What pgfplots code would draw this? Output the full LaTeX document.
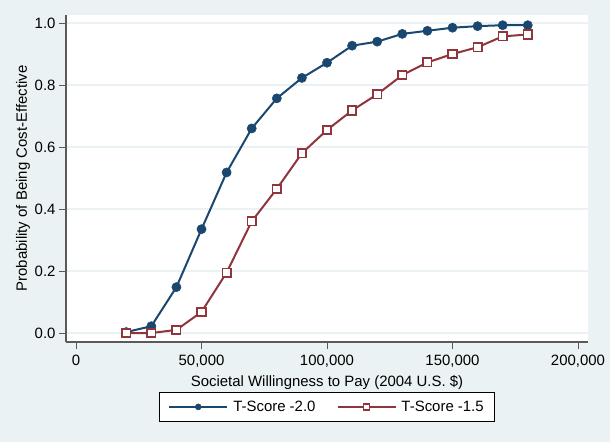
\documentclass[border=0pt]{standalone}
\usepackage{fontspec}
\setmainfont{Liberation Sans}
\usepackage{pgfplots}
\pgfplotsset{compat=1.18}
\definecolor{bgc}{RGB}{234,242,243}
\definecolor{sblue}{RGB}{26,71,111}
\definecolor{sred}{RGB}{144,53,59}
\definecolor{axgray}{RGB}{90,90,90}
\begin{document}
\begin{tikzpicture}[x=1bp,y=1bp]
\fill[bgc] (0,0) rectangle (610,442);
\useasboundingbox (0,0) rectangle (610,442);
\begin{axis}[
 at={(66bp,100bp)}, anchor=south west,
 scale only axis, width=522bp, height=327bp,
 xmin=-4000, xmax=204000, ymin=-0.029, ymax=1.026,
 axis background/.style={fill=white},
 axis x line*=bottom, axis y line*=left,
 axis line style={axgray, line width=1.4bp, -},
 xtick={0,50000,100000,150000,200000},
 xticklabels={0,{50,000},{100,000},{150,000},{200,000}},
 ytick={0,0.2,0.4,0.6,0.8,1},
 yticklabels={0.0,0.2,0.4,0.6,0.8,1.0},
 scaled x ticks=false,
 tick align=outside, major tick length=7bp,
 tick style={axgray, line width=0.8bp},
 ymajorgrids, grid style={bgc, line width=1.3bp},
 tick label style={font=\fontsize{15}{17}\selectfont, text=black},
 xticklabel style={yshift=-3bp},
 label style={font=\fontsize{15}{17}\selectfont},
 xlabel={Societal Willingness to Pay (2004 U.S. \$)},
 ylabel={Probability of Being Cost-Effective},
 xlabel style={yshift=-1bp},
 ylabel style={yshift=-2bp},
 legend style={at={(0.5,-0.153)}, anchor=north, legend columns=2, draw=black, line width=0.8bp, fill=white,
   font=\fontsize{15}{17}\selectfont, inner xsep=9bp, inner ysep=6.5bp,
   /tikz/every odd column/.append style={column sep=3bp},
   /tikz/every even column/.append style={column sep=19bp}},
 legend image code/.code={\draw[mark repeat=2,mark phase=2,mark size=3bp] plot coordinates {(0bp,0bp) (29bp,0bp) (58bp,0bp)};},
]
\addplot[sblue, line width=2bp, mark=*, mark size=4.6bp, mark options={fill=sblue, line width=0.5bp}] coordinates {
(20000,0.003) (30000,0.022) (40000,0.148) (50000,0.335) (60000,0.518) (70000,0.66)
(80000,0.757) (90000,0.823) (100000,0.872) (110000,0.927) (120000,0.94) (130000,0.965)
(140000,0.975) (150000,0.985) (160000,0.99) (170000,0.993) (180000,0.993)};
\addlegendentry{T-Score -2.0}
\addplot[sred, line width=2bp, mark=square*, mark size=4.2bp, mark options={line width=1.7bp, fill=white}] coordinates {
(20000,0.0) (30000,0.0) (40000,0.01) (50000,0.068) (60000,0.195) (70000,0.36)
(80000,0.465) (90000,0.58) (100000,0.655) (110000,0.718) (120000,0.77) (130000,0.832)
(140000,0.873) (150000,0.9) (160000,0.922) (170000,0.957) (180000,0.963)};
\addlegendentry{T-Score -1.5}
\end{axis}
\end{tikzpicture}
\end{document}
